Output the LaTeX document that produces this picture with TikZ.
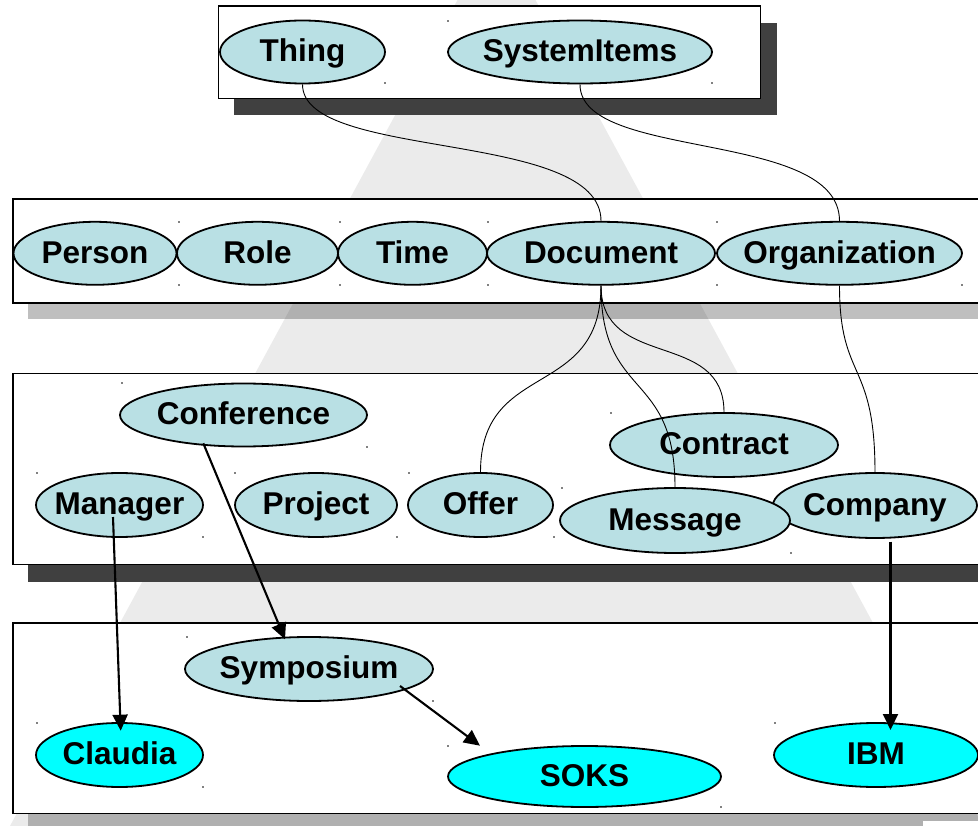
\documentclass[tikz,border=0pt]{standalone}
\usepackage{fontspec}
\setmainfont{Liberation Sans}
\usetikzlibrary{shapes.geometric,arrows.meta,calc}
\definecolor{conceptfill}{RGB}{185,224,228}
\definecolor{instfill}{RGB}{0,255,255}
\definecolor{pyramidgray}{RGB}{235,235,235}
\definecolor{darkshadow}{RGB}{64,64,64}

\begin{document}
\begin{tikzpicture}[x=1pt,y=-1pt,
  layerbox/.style={draw=black,line width=1.8pt,fill=white},
  darkshade/.style={fill=darkshadow},
  lightshade/.style={fill=black,fill opacity=0.25},
  cls/.style={ellipse,draw=black,line width=1.8pt,fill=conceptfill,inner sep=0pt,minimum height=63pt},
  obj/.style={cls,fill=instfill},
  lbl/.style={font=\bfseries\fontsize{31.5}{31.5}\selectfont,inner sep=0pt,text height=22.5pt,text depth=0pt,yshift=1.5pt},
  link/.style={line width=0.9pt},
  instarrow/.style={line width=2.1pt,-{Triangle[length=16pt,width=15pt]}},
  handle/.style={fill=black}
]
\useasboundingbox (0,0) rectangle (978,826);
\clip (0,0) rectangle (978,826);

% pyramid in the background
\fill[pyramidgray] (496.5,-72) -- (10,826) -- (983,826) -- cycle;

% layer boxes with their shadows
\fill[darkshade] (234,23) rectangle (777,115);
\draw[layerbox] (218.5,6) rectangle (760.5,98.5);

\fill[lightshade] (28,216) rectangle (1000,319.5);
\draw[layerbox] (12.7,199) rectangle (1000,303);

\fill[darkshade] (28,390) rectangle (1000,582);
\draw[layerbox] (12.7,373.5) rectangle (1000,564.5);

\fill[lightshade] (28,640) rectangle (1000,840);
\draw[layerbox] (12.7,623) rectangle (1000,813.5);
\fill[white] (923,821) rectangle (978,826);

% top layer
\node[cls,minimum width=165pt,label={[lbl]center:Thing}] (thing) at (302.5,52) {};
\node[cls,minimum width=264pt,label={[lbl]center:SystemItems}] (sysitems) at (580,52) {};

% upper ontology
\node[cls,minimum width=163pt,label={[lbl]center:Person}] (person) at (95,253.3) {};
\node[cls,minimum width=161pt,label={[lbl]center:Role}] (role) at (257.5,253.3) {};
\node[cls,minimum width=149pt,label={[lbl]center:Time}] (time) at (412.5,253.3) {};
\node[cls,minimum width=228pt,label={[lbl]center:Document}] (document) at (601,253.3) {};
\node[cls,minimum width=245pt,label={[lbl]center:Organization}] (organization) at (839.5,253.3) {};

% domain ontology
\node[cls,minimum width=247pt,label={[lbl]center:Conference}] (conference) at (243.5,415) {};
\node[cls,minimum width=167pt,minimum height=64pt,label={[lbl]center:Manager}] (manager) at (119.5,505) {};
\node[cls,minimum width=162pt,minimum height=64pt,label={[lbl]center:Project}] (project) at (316,505) {};
\node[cls,minimum width=145pt,minimum height=64pt,label={[lbl]center:Offer}] (offer) at (480.5,505) {};
\node[cls,minimum width=228pt,minimum height=64pt,label={[lbl]center:Contract}] (contract) at (724,445) {};
\node[cls,minimum width=204pt,minimum height=65pt,label={[lbl]center:Company}] (company) at (875,505.5) {};
\node[cls,minimum width=230pt,minimum height=65pt,label={[lbl]center:Message}] (message) at (675,520.5) {};

% instance layer
\node[cls,minimum width=248pt,minimum height=64pt,label={[lbl]center:Symposium}] (symposium) at (309,669) {};
\node[obj,minimum width=167pt,minimum height=64pt,label={[lbl]center:Claudia}] (claudia) at (119.5,755) {};
\node[obj,minimum width=273pt,minimum height=61pt,label={[lbl]center:SOKS}] (soks) at (584.5,776.5) {};
\node[obj,minimum width=204pt,minimum height=64pt,label={[lbl]center:IBM}] (ibm) at (876,755) {};

% subclass links
\draw[link] (thing.south) .. controls +(0,77) and +(0,-92) .. (document.north);
\draw[link] (sysitems.south) .. controls +(0,77) and +(0,-92) .. (organization.north);
\draw[link] (document.south) .. controls +(0,115) and +(0,-113) .. (offer.north);
\draw[link] (document.south) .. controls +(0,115) and +(0,-118) .. (message.north);
\draw[link] (document.south) .. controls +(0,85) and +(0,-83) .. (contract.north);
\draw[link] (organization.south) .. controls +(0,96) and +(0,-113) .. (company.north);

% instance-of arrows
\draw[instarrow] ($(conference.center)+(-40.2,28.3)$) -- ($(symposium.center)+(-24,-29.7)$);
\draw[instarrow] ($(manager.center)+(-6.5,12)$) -- ($(claudia.center)+(1.2,-24.3)$);
\draw[instarrow] ($(symposium.center)+(91,17)$) -- ($(soks.center)+(-104.5,-30.8)$);
\draw[instarrow] ($(company.center)+(15.5,36)$) -- ($(ibm.center)+(14.5,-25)$);

% selection handles
\foreach \hx/\hy in {448/21,385/83,712/83,
  179/222,179/285,340/222,340/285,488/222,488/285,717/222,717/285,962/285,
  122/383,367/447,37/473,203/537,235/473,397/537,409/473,611/413,562/488,554/537,791/553,
  187/637,433/701,37/723,203/787,448/746,775/723,721/807}
  \fill[handle] (\hx,\hy) circle (0.8);
\end{tikzpicture}
\end{document}
